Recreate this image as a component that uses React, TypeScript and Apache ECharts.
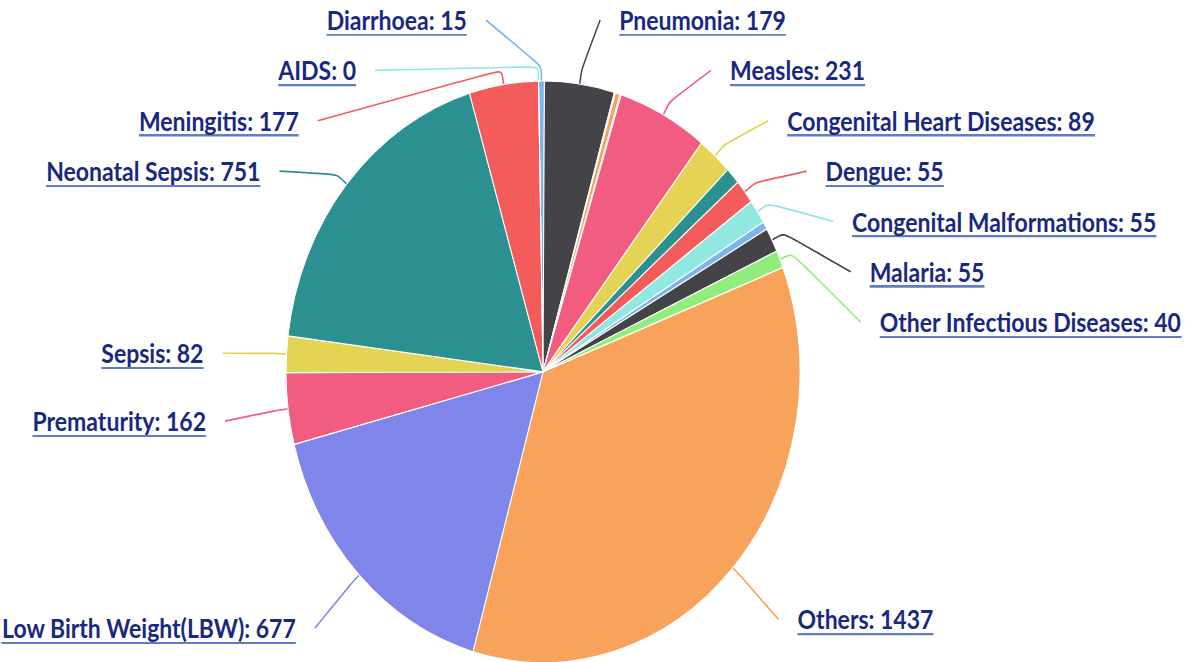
import React, { useEffect, useRef } from "react";
import * as echarts from "echarts";

// ---- data (clockwise from 12 o'clock) ----
const names = [
  "Diarrhoea",
  "Pneumonia",
  "Unlabelled A",
  "Unlabelled B",
  "Unlabelled C",
  "Measles",
  "Congenital Heart Diseases",
  "Unlabelled D",
  "Dengue",
  "Congenital Malformations",
  "Unlabelled E",
  "Malaria",
  "Other Infectious Diseases",
  "Others",
  "Low Birth Weight(LBW)",
  "Prematurity",
  "Sepsis",
  "Neonatal Sepsis",
  "Meningitis",
  "AIDS",
];
const values = [15, 179, 3, 12, 3, 231, 89, 38, 55, 55, 18, 55, 40, 1437, 677, 162, 82, 751, 177, 0];
const labelled = [
  true, true, false, false, false, true, true, false, true, true,
  false, true, true, true, true, true, true, true, true, true,
];
const palette = ["#7cb5ec", "#434348", "#90ed7d", "#f7a35c", "#8085e9", "#f15c80", "#e4d354", "#2b908f", "#f45b5b", "#91e8e1"];

// ---- layout constants ----
const W = 1185;
const OUT_H = 662;
const H = 585;
const SCALE_Y = OUT_H / H;
const CX = 543;
const CY = 328.6;
const R = 257;
const START = 91;
const LABEL_R = 320;
const LABEL_DY = 3;
const RX = 340;
const RY_UP = 319;
const RY_DOWN = 330;
const TOP = 17.7;
const STEP = 44.5;
const GAP = 19;
const BREAK = 13;

type L = { x: number; y: number; side: string; pts: number[][] };

function computeLabels(): Record<number, L> {
  const total = values.reduce((a, b) => a + b, 0);
  let acc = 0;
  const items: any[] = [];
  values.forEach((v, i) => {
    const a0 = (acc / total) * 360 + (90 - START);
    acc += v;
    const a1 = (acc / total) * 360 + (90 - START);
    if (!labelled[i]) return;
    const rad = (((a0 + a1) / 2) * Math.PI) / 180;
    const s = Math.sin(rad);
    const c = Math.cos(rad);
    items.push({ i, s, c, side: s < 0 ? "left" : "right", ny: CY - LABEL_R * c + LABEL_DY });
  });
  const out: Record<number, L> = {};
  ["left", "right"].forEach((side) => {
    const list = items.filter((d) => d.side === side).sort((a, b) => a.ny - b.ny);
    let prev = -Infinity;
    list.forEach((d) => {
      const y = Math.max(d.ny, TOP, prev + STEP);
      prev = y;
      const ry = y > CY ? RY_DOWN : RY_UP;
      const dy = ((y - CY) * RX) / ry;
      const dx = Math.sqrt(Math.max(0, RX * RX - dy * dy));
      const sign = side === "left" ? -1 : 1;
      const x = CX + sign * dx;
      const t = [CX + R * d.s, CY - R * d.c];
      const b = [CX + (R + BREAK) * d.s, CY - (R + BREAK) * d.c];
      const e = [x - sign * GAP, y];
      out[d.i] = { x, y, side, pts: [t, b, e] };
    });
  });
  return out;
}

export default function App() {
  const ref = useRef<HTMLDivElement>(null);
  useEffect(() => {
    if (!ref.current) return;
    const chart = echarts.init(ref.current, null, { renderer: "svg" });
    const layout = computeLabels();
    const underline = {
      type: "linear",
      x: 0,
      y: 0,
      x2: 0,
      y2: 1,
      colorStops: [
        { offset: 0, color: "rgba(255,255,255,0)" },
        { offset: 0.93, color: "rgba(255,255,255,0)" },
        { offset: 0.93, color: "#5f7cc6" },
        { offset: 1, color: "#5f7cc6" },
      ],
    };
    const data = names.map((n, i) => ({
      name: n,
      value: values[i],
      label: { show: labelled[i] },
      labelLine: { show: labelled[i] },
    }));
    chart.setOption({
      animation: false,
      color: palette,
      series: [
        {
          type: "pie",
          center: [CX, CY],
          radius: R,
          startAngle: START,
          clockwise: true,
          avoidLabelOverlap: false,
          itemStyle: { borderColor: "#ffffff", borderWidth: 1 },
          label: {
            show: true,
            position: "outside",
            formatter: "{b}: {c}",
            fontFamily: "Lato",
            fontWeight: "bold",
            fontSize: 23,
            lineHeight: 26,
            color: "#19297f",
            padding: [0, 0, 2, 0],
            backgroundColor: underline,
          },
          labelLine: {
            show: true,
            smooth: 0.25,
            lineStyle: { width: 1.5 },
          },
          emphasis: { disabled: true },
          labelLayout: (params: any) => {
            const l = layout[params.dataIndex];
            if (!l) return {};
            return {
              x: l.x,
              y: l.y,
              align: l.side === "left" ? "right" : "left",
              verticalAlign: "middle",
              labelLinePoints: l.pts,
            };
          },
          data,
        },
      ],
    });
    return () => chart.dispose();
  }, []);
  return (
    <div
      style={{
        position: "absolute",
        left: 0,
        top: 0,
        width: W,
        height: OUT_H,
        overflow: "hidden",
        background: "#ffffff",
      }}
    >
      <div
        ref={ref}
        style={{
          width: W,
          height: H,
          transform: `scaleY(${SCALE_Y})`,
          transformOrigin: "0 0",
        }}
      />
    </div>
  );
}
